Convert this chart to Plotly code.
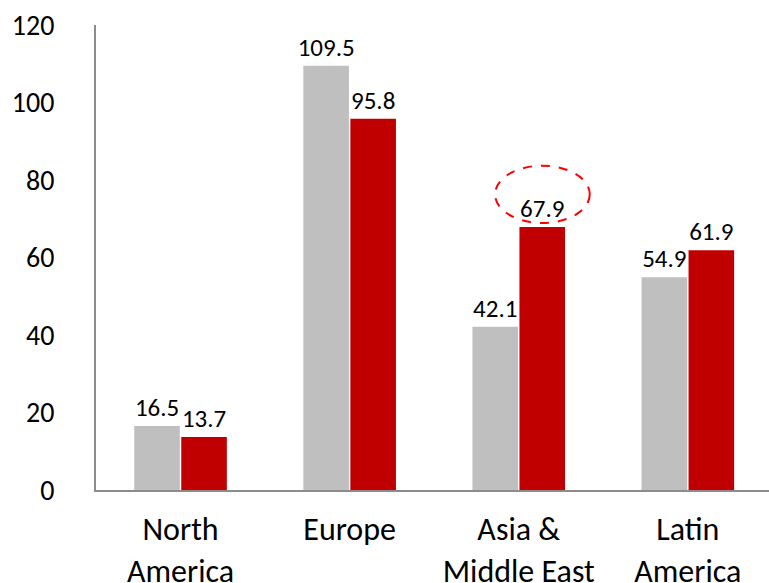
import plotly.graph_objects as go

categories = ["North<br>America", "Europe", "Asia &<br>Middle East", "Latin<br>America"]
series_grey = [16.5, 109.5, 42.1, 54.9]
series_red = [13.7, 95.8, 67.9, 61.9]
y_ticks = [0, 20, 40, 60, 80, 100, 120]

FONT = "Carlito, Lato, sans-serif"
GREY = "#BFBFBF"
RED = "#C00000"

x_idx = list(range(len(categories)))

fig = go.Figure()
fig.add_trace(go.Bar(
    x=x_idx, y=series_grey, marker=dict(color=GREY, line=dict(width=0)),
    text=[f"{v:.1f}" for v in series_grey], textposition="outside",
    constraintext="none",
    textfont=dict(family=FONT, size=25, color="#000"), cliponaxis=False,
    name="grey",
))
fig.add_trace(go.Bar(
    x=x_idx, y=series_red, marker=dict(color=RED, line=dict(width=0)),
    text=[f"{v:.1f}" for v in series_red], textposition="outside",
    constraintext="none",
    textfont=dict(family=FONT, size=25, color="#000"), cliponaxis=False,
    name="red",
))

# highlight ellipse around Asia & Middle East red label
hi = 2
cx = hi + 0.14
cy = series_red[hi] + 8.4
fig.add_shape(type="circle", xref="x", yref="y",
              x0=cx - 0.28, x1=cx + 0.28, y0=cy - 7.4, y1=cy + 7.4,
              line=dict(color="#FF0000", width=2, dash="dash"))

fig.update_layout(
    width=769, height=583,
    margin=dict(l=96, r=0, t=25, b=93),
    paper_bgcolor="white", plot_bgcolor="white",
    showlegend=False,
    barmode="group", bargap=0.444, bargroupgap=0.03,
    font=dict(family=FONT, color="#000"),
    uniformtext=dict(minsize=8, mode=False),
)
fig.update_xaxes(
    tickmode="array", tickvals=x_idx, ticktext=categories,
    range=[-0.5, 3.48], showgrid=False, zeroline=False,
    showline=True, linecolor="#8C8C8C", linewidth=2,
    ticks="", tickfont=dict(family=FONT, size=32, color="#000"),
    ticklabelstandoff=10, automargin=False,
)
fig.update_yaxes(
    range=[0, 120], tickmode="array", tickvals=y_ticks,
    showgrid=False, zeroline=False,
    showline=True, linecolor="#8C8C8C", linewidth=2,
    ticks="", tickfont=dict(family=FONT, size=28, color="#000"),
    ticklabelstandoff=34, automargin=False,
)

fig.write_html("out.html")
